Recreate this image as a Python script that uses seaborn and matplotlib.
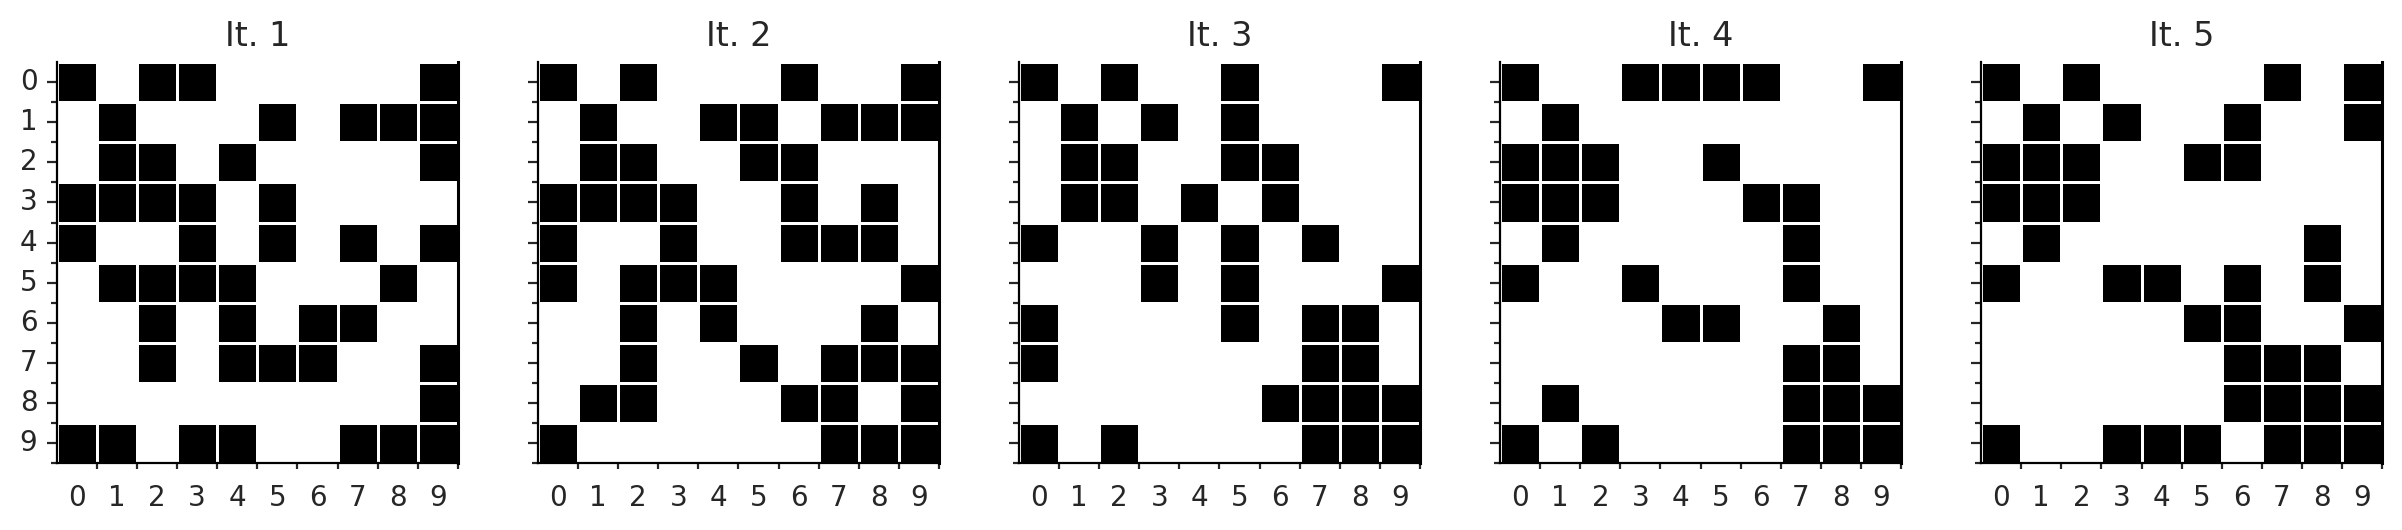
import numpy as np
import pandas as pd
import matplotlib
matplotlib.use("Agg")
import matplotlib.pyplot as plt
import seaborn as sns

# black cells (column indices) per row, for each iteration
it1 = [[0, 2, 3, 9], [1, 5, 7, 8, 9], [1, 2, 4, 9], [0, 1, 2, 3, 5], [0, 3, 5, 7, 9],
       [1, 2, 3, 4, 8], [2, 4, 6, 7], [2, 4, 5, 6, 9], [9], [0, 1, 3, 4, 7, 8, 9]]
it2 = [[0, 2, 6, 9], [1, 4, 5, 7, 8, 9], [1, 2, 5, 6], [0, 1, 2, 3, 6, 8], [0, 3, 6, 7, 8],
       [0, 2, 3, 4, 9], [2, 4, 8], [2, 5, 7, 8, 9], [1, 2, 6, 7, 9], [0, 7, 8, 9]]
it3 = [[0, 2, 5, 9], [1, 3, 5], [1, 2, 5, 6], [1, 2, 4, 6], [0, 3, 5, 7],
       [3, 5, 9], [0, 5, 7, 8], [0, 7, 8], [6, 7, 8, 9], [0, 2, 7, 8, 9]]
it4 = [[0, 3, 4, 5, 6, 9], [1], [0, 1, 2, 5], [0, 1, 2, 6, 7], [1, 7],
       [0, 3, 7], [4, 5, 8], [7, 8], [1, 7, 8, 9], [0, 2, 7, 8, 9]]
it5 = [[0, 2, 7, 9], [1, 3, 6, 9], [0, 1, 2, 5, 6], [0, 1, 2], [1, 8],
       [0, 3, 4, 6, 8], [5, 6, 9], [6, 7, 8], [6, 7, 8, 9], [0, 3, 4, 5, 7, 8, 9]]

titles = ["It. 1", "It. 2", "It. 3", "It. 4", "It. 5"]
labels = [str(i) for i in range(10)]


def to_grid(rows):
    g = np.zeros((10, 10))
    for r, cols in enumerate(rows):
        g[r, cols] = 1
    return pd.DataFrame(g, index=labels, columns=labels)


sns.set_style("white")
plt.rcParams['font.family'] = ['DejaVu Sans']

fig, axes = plt.subplots(1, 5, figsize=(12.01, 2.65), dpi=200, sharey=True)
fig.subplots_adjust(left=0.0237, right=0.9917, top=0.883, bottom=0.126, wspace=0.2)

for ax, rows, title in zip(axes, [it1, it2, it3, it4, it5], titles):
    sns.heatmap(to_grid(rows), ax=ax, cmap=["white", "black"], cbar=False,
                linewidths=0.5, linecolor="white", square=True, vmin=0, vmax=1)
    ax.set_title(title, fontsize=12)
    ax.set_xticks(np.arange(10) + 0.5)
    ax.set_xticklabels(labels, rotation=0, fontsize=10)
    ax.set_xticks(np.arange(1, 11), minor=True)
    ax.set_yticks(np.arange(10) + 0.5)
    ax.set_yticks(np.arange(1, 11), minor=True)
    ax.tick_params(axis="x", which="major", length=0, pad=7.5)
    ax.tick_params(axis="x", which="minor", length=2, width=0.8, bottom=True)
    ax.tick_params(axis="y", which="major", length=3.5, width=0.8, left=True)
    ax.tick_params(axis="y", which="minor", length=2, width=0.8, left=True)
    for s in ["left", "bottom", "right"]:
        ax.spines[s].set_visible(True)
        ax.spines[s].set_color("black")
        ax.spines[s].set_linewidth(0.8)
    ax.spines["right"].set_linewidth(1.1)
    ax.set_xlabel("")
    ax.set_ylabel("")

axes[0].set_yticklabels(labels, rotation=0, fontsize=10)
for ax in axes[1:]:
    ax.tick_params(axis="y", labelleft=False)

fig.savefig("out.png", dpi=200)
